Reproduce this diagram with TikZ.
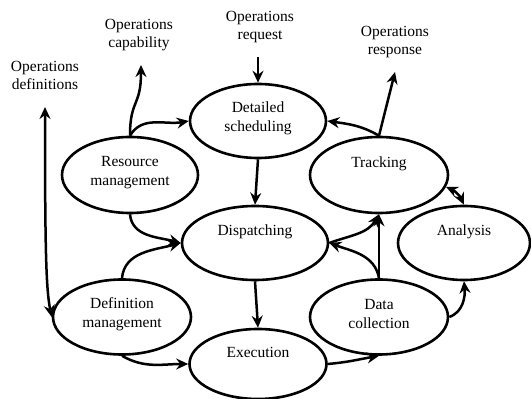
\documentclass[tikz,border=0pt]{standalone}
\usepackage{fontspec}
\setmainfont{Liberation Serif}
\usetikzlibrary{shapes.geometric,arrows.meta}
\begin{document}
\begin{tikzpicture}[x=1pt,y=1pt,
  ell/.style={draw,ellipse,line width=2.6pt,minimum width=137pt,minimum height=74pt,inner sep=0pt},
  txt/.style={align=center,inner sep=0pt,font=\fontsize{15.5}{19}\selectfont},
  lbl/.style={align=center,inner sep=0pt,font=\fontsize{15.5}{18}\selectfont},
  conn/.style={line width=2.5pt,-{Stealth[length=12pt,width=11pt,inset=4pt]}},
  dconn/.style={line width=2.5pt,{Stealth[length=12pt,width=11pt,inset=4pt]}-{Stealth[length=12pt,width=11pt,inset=4pt]}},
  ]
\useasboundingbox (0,0) rectangle (531,399);
% ellipses
\node[ell,minimum width=136pt] (ds) at (258,278) {};
\node[ell,minimum width=136pt,minimum height=76pt] (rm) at (130,224) {};
\node[ell,minimum width=138pt,minimum height=76pt] (tr) at (379,224) {};
\node[ell,minimum width=146pt] (disp) at (255,156) {};
\node[ell,minimum width=132pt] (an) at (464,156) {};
\node[ell,minimum width=138pt,minimum height=75pt] (dm) at (122,82) {};
\node[ell,minimum width=138pt,minimum height=75pt] (dc) at (379,82) {};
\node[ell,minimum width=137pt,minimum height=70pt] (ex) at (258,35) {};
% texts in ellipses
\node[txt] (dsT) at ([yshift=2.5pt]ds.center) {Detailed\\scheduling};
\node[txt] (rmT) at ([yshift=2.5pt]rm.center) {Resource\\management};
\node[txt] (trT) at ([yshift=11.5pt]tr.center) {Tracking};
\node[txt] (dispT) at ([yshift=11.5pt]disp.center) {Dispatching};
\node[txt] (anT) at ([yshift=11.5pt]an.center) {Analysis};
\node[txt] (dmT) at ([yshift=2.5pt]dm.center) {Definition\\management};
\node[txt] (dcT) at ([yshift=2.5pt]dc.center) {Data\\collection};
\node[txt] (exT) at ([yshift=11.5pt]ex.center) {Execution};
% outside labels
\node[lbl] (cap) at (139,364) {Operations\\capability};
\node[lbl] (defs) at (45,324) {Operations\\definitions};
\node[lbl] (req) at (260,372) {Operations\\request};
\node[lbl] (resp) at (395,357) {Operations\\response};
\coordinate (capT) at (141,334);
\coordinate (defT) at (45,292);
\coordinate (reqB) at (258,342);
\coordinate (respT) at (395,327);
% connectors
\draw[conn] (rm.north) to[out=60,in=190] (ds.west);
\draw[conn] (rm.north) .. controls (130,300) and (141,292) .. (capT);
\draw[dconn] (defT) .. controls (45,150) and (46,110) .. (dm.west);
\draw[conn] (reqB) -- (ds.north);
\draw[conn] (tr.north) -- (respT);
\draw[conn] (tr.north) to[out=150,in=-8] (ds.east);
\draw[conn] (ds.south) -- (disp.north);
\draw[conn] (rm.south) to[out=-85,in=165] (disp.west);
\draw[conn] (dm.north) to[out=85,in=195] (disp.west);
\draw[conn] (disp.south) -- (ex.north);
\draw[conn] (dm.south) to[out=-30,in=180] (ex.west);
\draw[conn] (ex.east) to[out=5,in=190] (dc.south);
\draw[conn] (dc.north) -- (tr.south);
\draw[conn] (dc.north) to[out=100,in=-20] (disp.east);
\draw[conn] (disp.east) to[out=20,in=-120] (tr.south);
\draw[dconn] (tr.-10) to[bend left=20] (an.north);
\draw[conn] (dc.east) to[out=20,in=-85] (an.south);
\end{tikzpicture}
\end{document}
